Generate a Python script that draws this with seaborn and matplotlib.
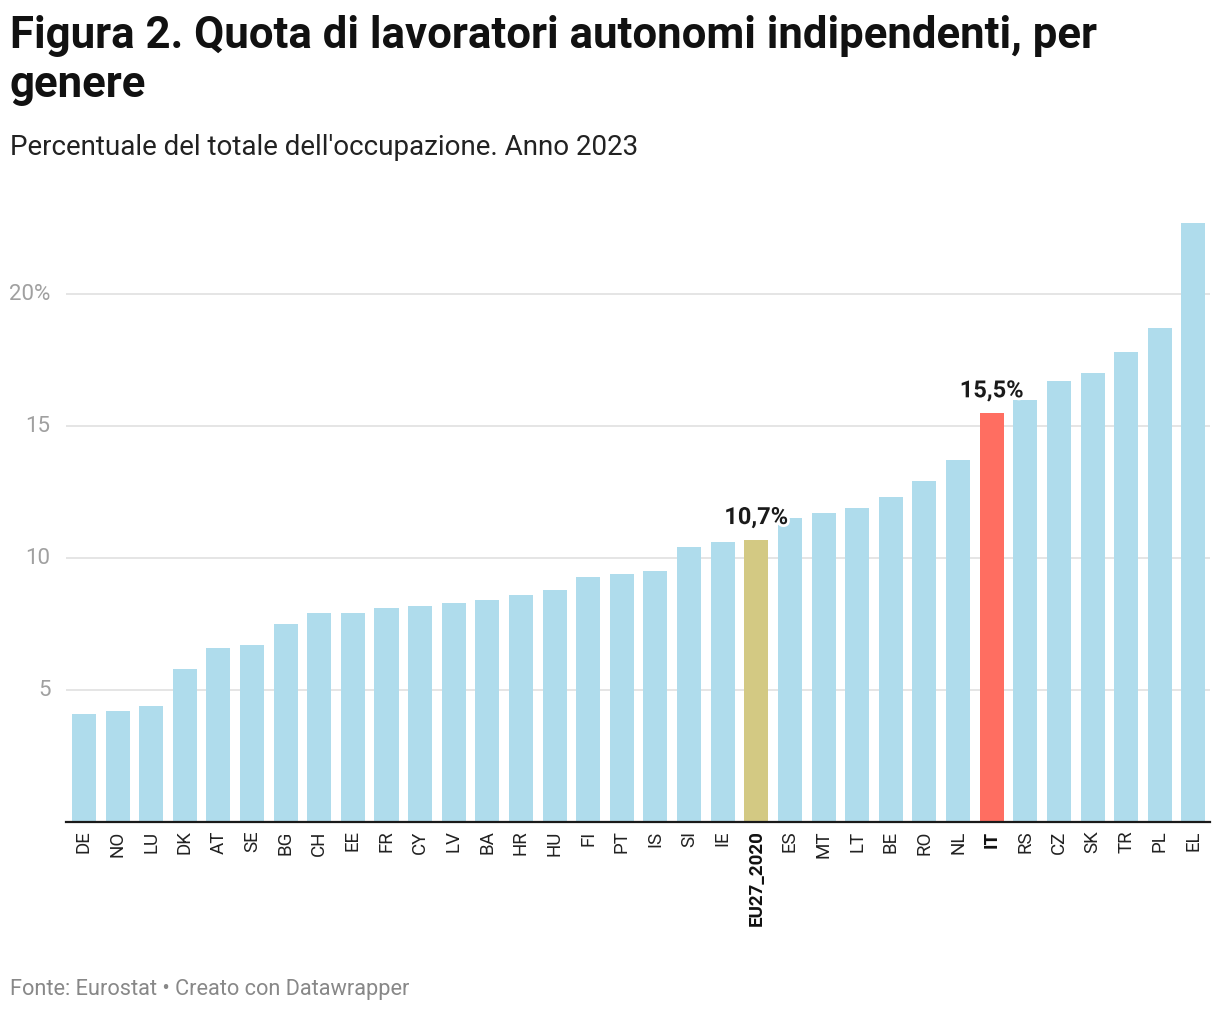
import matplotlib
matplotlib.use("Agg")
import matplotlib.pyplot as plt
import matplotlib.patheffects as pe
import seaborn as sns
import pandas as pd

# Data (% of total employment, 2023)
countries = ["DE", "NO", "LU", "DK", "AT", "SE", "BG", "CH", "EE", "FR", "CY", "LV",
             "BA", "HR", "HU", "FI", "PT", "IS", "SI", "IE", "EU27_2020", "ES", "MT",
             "LT", "BE", "RO", "NL", "IT", "RS", "CZ", "SK", "TR", "PL", "EL"]
values = [4.1, 4.2, 4.4, 5.8, 6.6, 6.7, 7.5, 7.9, 7.9, 8.1, 8.2, 8.3,
          8.4, 8.6, 8.8, 9.3, 9.4, 9.5, 10.4, 10.6, 10.7, 11.5, 11.7,
          11.9, 12.3, 12.9, 13.7, 15.5, 16.0, 16.7, 17.0, 17.8, 18.7, 22.7]
highlight = {"EU27_2020": "#d3c983", "IT": "#ff6e61"}
labelled = ["EU27_2020", "IT"]
yticks = [5, 10, 15, 20]
ytick_labels = ["5", "10", "15", "20%"]

base_color = "#afdcec"
palette = {c: highlight.get(c, base_color) for c in countries}
df = pd.DataFrame({"country": countries, "value": values})

sns.set_theme(style="white")
plt.rcParams["font.family"] = ["Roboto", "DejaVu Sans"]

fig = plt.figure(figsize=(12.2, 10.14), dpi=100)
ax = fig.add_axes([0.054, 0.1893, 0.938, 0.5988])

sns.barplot(data=df, x="country", y="value", hue="country", palette=palette,
            legend=False, width=0.714, saturation=1, linewidth=0, ax=ax, zorder=3)

ax.set_ylim(0, 23)
ax.set_xlim(-0.536, 33.5)
ax.set_yticks(yticks)
ax.set_yticklabels(ytick_labels)
ax.yaxis.grid(True, color="#e3e3e3", linewidth=1.3, zorder=0)
ax.set_axisbelow(True)
ax.set_xlabel("")
ax.set_ylabel("")

for s in ["top", "right", "left"]:
    ax.spines[s].set_visible(False)
ax.spines["bottom"].set_color("#1a1a1a")
ax.spines["bottom"].set_linewidth(1.6)
ax.spines["bottom"].set_zorder(5)

ax.tick_params(axis="y", length=0, pad=11, labelsize=16, labelcolor="#a0a0a0")
ax.tick_params(axis="x", length=0, pad=6, labelsize=13.5, labelcolor="#222222")
for lbl in ax.get_yticklabels():
    lbl.set_verticalalignment("center")
ax.set_xticks(range(len(countries)))
ax.set_xticklabels(countries, rotation=90)
for lbl in ax.get_xticklabels():
    if lbl.get_text() in labelled:
        lbl.set_fontweight("bold")
        lbl.set_color("#111111")

# value labels on highlighted bars
for c in labelled:
    i = countries.index(c)
    v = values[i]
    ax.text(i, v + 0.4, f"{v:.1f}%".replace(".", ","), ha="center", va="bottom",
            fontsize=17, fontweight="bold", color="#1a1a1a", zorder=6,
            path_effects=[pe.withStroke(linewidth=4, foreground="white")])

fig.text(0.008, 0.985, "Figura 2. Quota di lavoratori autonomi indipendenti, per\ngenere",
         fontsize=31.5, fontweight="bold", color="#111111", va="top", ha="left",
         linespacing=1.22)
fig.text(0.008, 0.855, "Percentuale del totale dell'occupazione. Anno 2023",
         fontsize=20, color="#222222", va="center", ha="left")
fig.text(0.008, 0.024, "Fonte: Eurostat \u2022 Creato con Datawrapper",
         fontsize=15.7, color="#888888", va="center", ha="left")

fig.savefig("out.png", dpi=100)
